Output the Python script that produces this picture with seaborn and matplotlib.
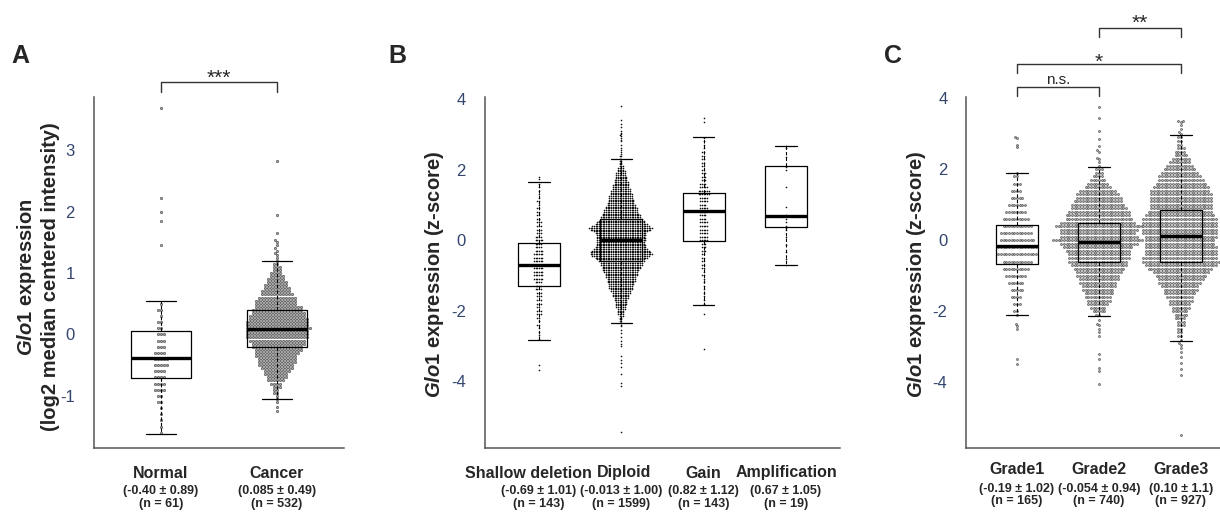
import numpy as np
import seaborn as sns
import matplotlib.pyplot as plt

# ---- data ----
# dense swarm cores are stored as counts per y-bin: (first bin, bin step) + counts,
# the loose points outside / around the whiskers are listed one by one

# panel A: log2 median centered intensity
normal_bins = (-1.6, 0.1)
normal_counts = [1, 1, 1, 1, 1, 2, 2, 4, 4, 4, 4, 5, 5, 4, 3, 3, 3, 2, 2, 1, 2, 1]
normal_loose = [3.68, 2.22, 2.0, 1.84, 1.45]

cancer_bins = (-1.05, 0.05)
cancer_counts = [1, 1, 2, 2, 3, 4, 6, 7, 8, 9, 11, 12, 13, 13, 14, 15, 16, 17, 18, 19,
                 21, 21, 21, 22, 21, 21, 20, 19, 18, 17, 16, 14, 14, 13, 11, 10, 9, 8, 7, 6,
                 5, 4, 3, 3, 2, 1]
cancer_loose = [1.25, 1.3, 1.33, 1.36, 1.4, 1.45, 1.5, 1.53, 1.65, 1.95, 2.82, -1.1, -1.18, -1.25]

a_names = ['Normal', 'Cancer']
a_mean_sd = ['(-0.40 ± 0.89)', '(0.085 ± 0.49)']
a_n = ['(n = 61)', '(n = 532)']
a_whislo = [-1.63, -1.05]
a_q1 = [-0.71, -0.21]
a_med = [-0.39, 0.09]
a_q3 = [0.06, 0.39]
a_whishi = [0.54, 1.20]

# panel B: copy number, z-score
shallow_bins = (-2.8, 0.1)
shallow_counts = [1, 1, 1, 1, 2, 1, 2, 3, 3, 2, 3, 3, 3, 3, 4, 4, 4, 6, 6, 6, 6, 6, 6, 6, 6,
                  5, 4, 4, 5, 4, 3, 3, 3, 3, 2, 2, 2, 2, 1, 2, 1, 1, 1, 1, 1]
shallow_loose = [1.8, 1.72, -3.55, -3.68]

diploid_bins = (2.3, -0.05)  # top down
diploid_counts = [2, 2, 2, 2, 3, 4, 4, 5, 6, 6, 7, 7, 8, 9, 9, 10, 10, 11, 12, 12, 13, 14, 14, 15, 15, 16,
                  17, 18, 19, 20, 20, 22, 23, 24, 25, 27, 28,
                  31, 34, 38, 36, 32, 30, 29, 28, 29, 29, 28, 28, 29, 30, 32, 34, 36, 37, 34,
                  31, 28, 27, 25, 25, 23, 23, 22, 20, 19, 19,
                  18, 17, 17, 16, 15, 14, 14, 13, 12, 11, 10, 10, 9, 8, 7, 7, 6, 6, 5, 4, 4, 4, 3, 2, 2, 2, 1]
diploid_loose = [3.8, 3.4, 3.3, 3.2, 3.1, 3.05, 3.0, 2.97, 2.95, 2.9, 2.85, 2.8, 2.7, 2.6, 2.55,
                 2.5, 2.45, 2.4, 2.38,
                 -2.4, -2.45, -2.55, -2.65, -2.75, -2.85, -2.95, -3.0, -3.3, -3.4, -3.5, -3.6,
                 -3.8, -4.05, -4.15, -5.45]

gain_bins = (-1.8, 0.1)
gain_counts = [1, 1, 1, 1, 1, 1, 1, 1, 2, 1, 2, 2, 2, 2, 2, 3, 3, 3, 5, 5, 5, 5, 5, 5,
               4, 4, 4, 5, 4, 5, 5, 7, 7, 5, 4, 3, 3, 3, 2, 2, 2, 2, 2, 2, 1, 1, 1, 1]
gain_loose = [3.45, 3.35, -2.1, -3.1]

amp_values = [2.68, 2.6, 2.35, 2.08, 2.0, 1.5, 0.95, 0.72, 0.67, 0.6, 0.5, 0.4, 0.35, 0.3,
              0.1, -0.15, -0.35, -0.55, -0.7]

b_names = ['Shallow deletion', 'Diploid', 'Gain', 'Amplification']
b_mean_sd = ['(-0.69 ± 1.01)', '(-0.013 ± 1.00)', '(0.82 ± 1.12)', '(0.67 ± 1.05)']
b_n = ['(n = 143)', '(n = 1599)', '(n = 143)', '(n = 19)']
b_whislo = [-2.83, -2.34, -1.84, -0.70]
b_q1 = [-1.31, -0.58, -0.02, 0.36]
b_med = [-0.70, 0.0, 0.83, 0.67]
b_q3 = [-0.07, 0.60, 1.33, 2.11]
b_whishi = [1.65, 2.31, 2.93, 2.68]

# panel C: tumour grade, z-score
grade1_bins = (-2.0, 0.2)
grade1_counts = [2, 3, 4, 5, 6, 8, 10, 11, 15, 15, 13, 12, 11, 10, 8, 7, 5, 4, 3, 2]
grade1_loose = [2.9, 2.87, 2.7, 2.62, 1.9, -2.1, -2.35, -2.42, -2.5, -3.35, -3.5]

grade2_bins = (-2.1, 0.1)
grade2_counts = [2, 5, 6, 8, 9, 10, 11, 12, 13, 14, 15, 16, 17, 19, 21, 22, 23, 23, 24, 26, 29,
                 34, 29, 28, 29, 33, 28, 25, 24, 23, 21, 20, 18, 17, 16, 14, 10, 8, 6, 4, 3, 3]
grade2_loose = [3.76, 3.45, 3.08, 2.85, 2.65, 2.55, 2.5, 2.32, 2.28, 2.2, 2.1,
                -2.25, -2.35, -2.4, -2.5, -2.6, -2.7, -3.2, -3.35, -3.6, -3.7, -4.05]

grade3_bins = (-2.8, 0.1)
grade3_counts = [1, 2, 2, 2, 3, 3, 4, 5, 6, 7, 8, 9, 10, 12, 13, 14, 16, 17, 19, 21, 24, 27, 29,
                 28, 27, 27, 27, 26, 26, 27, 28, 28, 28, 28, 28, 26, 24, 23, 23, 23, 23, 23, 22,
                 21, 19, 17, 16, 14, 12, 10, 8, 7, 5, 4, 3, 2, 2, 2, 1]
grade3_loose = [3.36, 3.35, 3.33, 3.25, 3.15, 3.05,
                -2.9, -2.95, -3.05, -3.16, -3.3, -3.47, -3.62, -3.79, -5.5]

c_names = ['Grade1', 'Grade2', 'Grade3']
c_mean_sd = ['(-0.19 ± 1.02)', '(-0.054 ± 0.94)', '(0.10 ± 1.1)']
c_n = ['(n = 165)', '(n = 740)', '(n = 927)']
c_whislo = [-2.11, -2.13, -2.83]
c_q1 = [-0.67, -0.60, -0.60]
c_med = [-0.17, -0.04, 0.11]
c_q3 = [0.42, 0.49, 0.84]
c_whishi = [1.90, 2.06, 2.96]


def expand(bins, counts, loose):
    start, step = bins
    levels = np.round(start + step * np.arange(len(counts)), 2)
    return np.concatenate([np.repeat(levels, counts), loose])


sns.set_style('white')
plt.rcParams['font.family'] = ['Liberation Sans', 'DejaVu Sans']
plt.rcParams['axes.unicode_minus'] = False
plt.rcParams['mathtext.fontset'] = 'custom'
plt.rcParams['mathtext.it'] = 'Liberation Sans:italic:bold'
plt.rcParams['mathtext.rm'] = 'Liberation Sans:bold'

S = 0.5  # data units between categories


def panel(ax, values, box, colour, edge, size, lw):
    pos = [i * S for i in range(len(values))]
    for p, v in zip(pos, values):
        sns.swarmplot(x=np.full(len(v), p), y=v, native_scale=True, orient='x',
                      color=colour, edgecolor=edge, linewidth=lw, size=size,
                      warn_thresh=1, ax=ax, zorder=2)
    stats = [dict(whislo=a, q1=b, med=c, q3=d, whishi=e) for a, b, c, d, e in zip(*box)]
    ax.bxp(stats, positions=pos, widths=0.51 * S, capwidths=0.26 * S, showfliers=False,
           boxprops=dict(color='black', lw=0.9),
           medianprops=dict(color='black', lw=2.4, solid_capstyle='butt'),
           whiskerprops=dict(color='black', lw=0.8, ls=(0, (3, 2))),
           capprops=dict(color='black', lw=0.9), manage_ticks=False, zorder=3)
    return pos


def style(ax, pos, xlim, ylim, yticks):
    ax.set_xlim(xlim)
    ax.set_ylim(ylim)
    ax.set_xticks(pos)
    ax.set_xticklabels([])
    ax.set_yticks(yticks)
    ax.set_xlabel('')
    ax.set_ylabel('')
    for side in ['top', 'right']:
        ax.spines[side].set_visible(False)
    for side in ['left', 'bottom']:
        ax.spines[side].set_color('#555555')
        ax.spines[side].set_linewidth(1.1)
    ax.tick_params(axis='both', direction='out', length=6, width=1, color='#555555')
    ax.tick_params(axis='y', labelsize=12, labelcolor='#34466e', pad=7.5)


def xlabels(ax, pos, names, stats, ns, offs, shift=None):
    shift = shift or [0] * len(pos)
    for p, a, b, c, dx in zip(pos, names, stats, ns, shift):
        for txt, off, fs, sx in [(a, offs[0], 11.5, dx), (b, offs[1], 9, 0), (c, offs[2], 9, 0)]:
            ax.annotate(txt, xy=(p, 0), xycoords=('data', 'axes fraction'),
                        xytext=(sx, -off), textcoords='offset points', ha='center',
                        va='center', fontsize=fs, fontweight='bold', annotation_clip=False)


def bracket(ax, x0, x1, y, leg, text, ty, fs):
    tr = ax.get_xaxis_transform()
    ax.plot([x0, x0, x1, x1], [y - leg, y, y, y - leg], transform=tr, color='#333333',
            lw=1, clip_on=False)
    ax.text((x0 + x1) / 2, ty, text, transform=tr, ha='center', va='baseline', fontsize=fs)


W, H = 1220, 512
fig = plt.figure(figsize=(W / 100, H / 100), dpi=100)
bottom, height = (H - 448) / H, 351 / H
ax1 = fig.add_axes([93.7 / W, bottom, 250.6 / W, height])
ax2 = fig.add_axes([484.7 / W, bottom, 355.6 / W, height])
ax3 = fig.add_axes([966.2 / W, bottom, 265.6 / W, height])

# A
a_vals = [expand(normal_bins, normal_counts, normal_loose),
          expand(cancer_bins, cancer_counts, cancer_loose)]
pos = panel(ax1, a_vals, (a_whislo, a_q1, a_med, a_q3, a_whishi), '#adadad', '#3f3f3f', 1.6, 0.45)
style(ax1, pos, (-0.29, 0.79), (-1.85, 3.865), [-1, 0, 1, 2, 3])
xlabels(ax1, pos, a_names, a_mean_sd, a_n, (18, 31, 40.3))
bracket(ax1, pos[0], pos[1], 1.0427, 0.0285, '***', 1.037, 15)

# B
b_vals = [expand(shallow_bins, shallow_counts, shallow_loose),
          expand(diploid_bins, diploid_counts, diploid_loose),
          expand(gain_bins, gain_counts, gain_loose),
          np.array(amp_values)]
pos = panel(ax2, b_vals, (b_whislo, b_q1, b_med, b_q3, b_whishi), '#111111', '#111111', 1.17, 0)
style(ax2, pos, (-0.33, 1.83), (-5.9, 4.06), [-4, -2, 0, 2, 4])
xlabels(ax2, pos, b_names, b_mean_sd, b_n, (18, 31, 40.3), shift=[-7.5, 2, 0, 0])

# C
c_vals = [expand(grade1_bins, grade1_counts, grade1_loose),
          expand(grade2_bins, grade2_counts, grade2_loose),
          expand(grade3_bins, grade3_counts, grade3_loose)]
pos = panel(ax3, c_vals, (c_whislo, c_q1, c_med, c_q3, c_whishi), '#adadad', '#3f3f3f', 1.45, 0.4)
style(ax3, pos, (-0.31, 1.31), (-5.86, 4.04), [-4, -2, 0, 2, 4])
xlabels(ax3, pos, c_names, c_mean_sd, c_n, (15.8, 29.5, 38.2))
bracket(ax3, pos[0], pos[1], 1.0285, 0.0257, 'n.s.', 1.037, 11)
bracket(ax3, pos[0], pos[2], 1.094, 0.026, '*', 1.083, 15)
bracket(ax3, pos[1], pos[2], 1.1966, 0.0256, '**', 1.194, 15)

# y labels and panel letters
fig.text(38 / W, (H - 277) / H,
         '$\\mathit{Glo1}$ expression\n(log2 median centered intensity)',
         rotation=90, ha='center', va='center', fontsize=14.5, fontweight='bold',
         linespacing=1.2, multialignment='center')
fig.text(434 / W, (H - 274) / H, '$\\mathit{Glo1}$ expression (z-score)',
         rotation=90, ha='center', va='center', fontsize=14.5, fontweight='bold')
fig.text(917 / W, (H - 274) / H, '$\\mathit{Glo1}$ expression (z-score)',
         rotation=90, ha='center', va='center', fontsize=14.5, fontweight='bold')
for x, letter in [(20, 'A'), (397, 'B'), (893, 'C')]:
    fig.text(x / W, (H - 56) / H, letter, ha='center', va='center', fontsize=18,
             fontweight='bold')

fig.savefig('out.png', dpi=100)
